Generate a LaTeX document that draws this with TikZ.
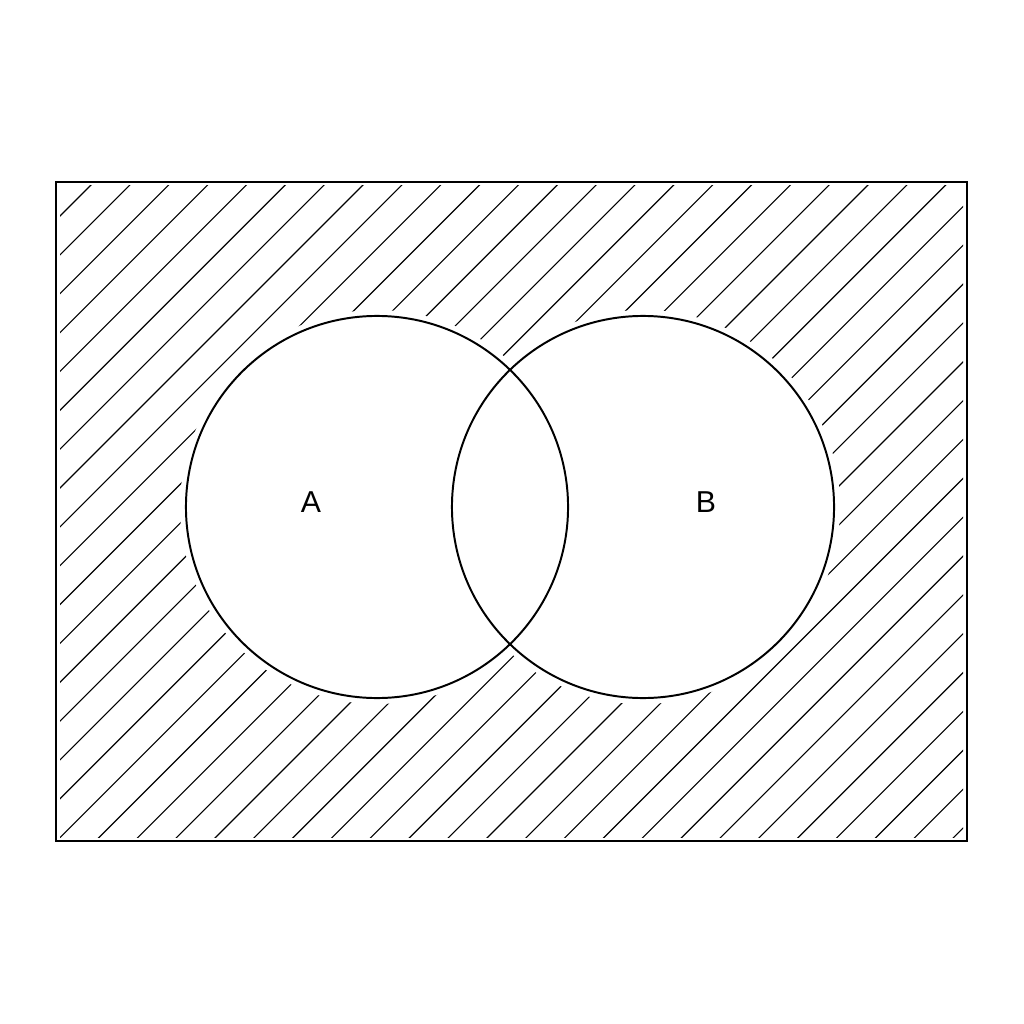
\documentclass[tikz,border=0pt]{standalone}
\usepackage{fontspec}
\setmainfont{Liberation Sans}
\begin{document}
\begin{tikzpicture}[x=0.025cm,y=-0.025cm,
  hatch/.style={line width=0.8pt,black},
  setcircle/.style={circle,draw,line width=1.4pt,minimum size=9.55cm,inner sep=0pt},
  universe/.style={rectangle,draw,line width=1.4pt,minimum width=22.775cm,minimum height=16.475cm,inner sep=0pt},
  setlabel/.style={font=\fontsize{21.5}{24}\selectfont,inner sep=0pt}]
\useasboundingbox (0,0) rectangle (1024,1024);
\fill[white] (0,0) rectangle (1024,1024);
% hatching
\begin{scope}
  \clip (60,186) rectangle (963,837);
  \foreach \k in {-2,...,42}{
    \pgfmathsetmacro{\c}{276+\k*38.85}
    \draw[hatch] (\c-845,845) -- (\c-178,178);
  }
\end{scope}
\fill[white] (377,507) circle[radius=197];
\fill[white] (643,507) circle[radius=197];
\node[universe] (U) at (511.5,511.5) {};
\node[setcircle] (A) at (377,507) {};
\node[setcircle] (B) at (643,507) {};
\node[setlabel] (la) at (311,502) {A};
\node[setlabel] (lb) at (706,502) {B};
\end{tikzpicture}
\end{document}
